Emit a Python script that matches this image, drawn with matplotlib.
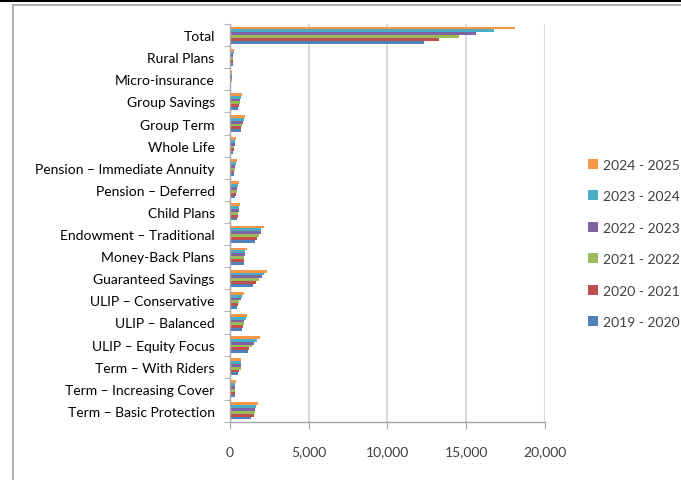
import matplotlib
matplotlib.use("Agg")
import matplotlib.pyplot as plt
from matplotlib.lines import Line2D
from matplotlib.patches import Rectangle
from matplotlib.ticker import FuncFormatter, MultipleLocator
import numpy as np

# ── Data ───────────────────────────────────────────────────────────────────
categories = [
    "Total", "Rural Plans", "Micro-insurance", "Group Savings", "Group Term",
    "Whole Life", "Pension \u2013 Immediate Annuity", "Pension \u2013 Deferred",
    "Child Plans", "Endowment \u2013 Traditional", "Money-Back Plans",
    "Guaranteed Savings", "ULIP \u2013 Conservative", "ULIP \u2013 Balanced",
    "ULIP \u2013 Equity Focus", "Term \u2013 With Riders",
    "Term \u2013 Increasing Cover", "Term \u2013 Basic Protection",
]

years = ["2019 - 2020", "2020 - 2021", "2021 - 2022",
         "2022 - 2023", "2023 - 2024", "2024 - 2025"]

fy_2019_20 = [12340, 180, 80, 520, 690, 200, 250, 350, 470, 1590, 860,
              1450, 450, 770, 1140, 480, 290, 1310]
fy_2020_21 = [13290, 190, 90, 580, 730, 230, 280, 390, 520, 1730, 900,
              1640, 520, 810, 1230, 590, 290, 1520]
fy_2021_22 = [14560, 200, 100, 620, 770, 270, 300, 430, 540, 1840, 920,
              1860, 600, 870, 1390, 670, 300, 1570]
fy_2022_23 = [15600, 210, 110, 660, 820, 290, 330, 470, 560, 1940, 940,
              2010, 680, 920, 1540, 680, 310, 1620]
fy_2023_24 = [16770, 230, 120, 700, 900, 330, 370, 520, 600, 2000, 980,
              2160, 770, 1000, 1740, 690, 330, 1680]
fy_2024_25 = [18100, 250, 140, 740, 980, 360, 420, 580, 650, 2130, 1060,
              2360, 860, 1100, 1910, 720, 370, 1760]

series = [fy_2019_20, fy_2020_21, fy_2021_22, fy_2022_23, fy_2023_24, fy_2024_25]
colors = ["#4F81BD", "#C0504D", "#9BBB59", "#8064A2", "#4BACC6", "#F79646"]

# ── Style ──────────────────────────────────────────────────────────────────
plt.rcParams["font.family"] = ["Lato", "DejaVu Sans"]
plt.rcParams["font.size"] = 10
text_color = "#404040"
grid_color = "#D9D9D9"
axis_color = "#A6A6A6"

fig = plt.figure(figsize=(6.81, 4.81), dpi=100)
ax = fig.add_axes([0.3377, 0.1206, 0.4626, 0.8274])

n = len(categories)
y = np.arange(n)[::-1]
group = 0.77
h = group / len(series)

for i, (vals, col, lab) in enumerate(zip(series, colors, years)):
    ax.barh(y + (i - 2.5) * h, vals, height=h, color=col, label=lab,
            edgecolor="none")

ax.set_xlim(0, 20000)
ax.set_ylim(-0.5, n - 0.5)
ax.xaxis.set_major_locator(MultipleLocator(5000))
ax.xaxis.set_major_formatter(FuncFormatter(lambda v, _: f"{v:,.0f}"))
ax.grid(axis="x", color=grid_color, linewidth=1.5)
ax.set_axisbelow(True)

# category labels centred, tick marks at the group boundaries
ax.set_yticks(y)
ax.set_yticklabels(categories)
ax.set_yticks(np.arange(-0.5, n, 1.0), minor=True)
ax.tick_params(axis="y", which="major", length=0, pad=11,
               labelcolor="#000000", labelsize=10)
ax.tick_params(axis="y", which="minor", length=4, color=axis_color,
               direction="out")
ax.tick_params(axis="x", length=5, color=axis_color, pad=12,
               labelcolor=text_color, labelsize=10)

for side in ["top", "right"]:
    ax.spines[side].set_visible(False)
for side in ["left", "bottom"]:
    ax.spines[side].set_color(axis_color)
    ax.spines[side].set_linewidth(1.0)

# legend: newest year on top
handles, labels = ax.get_legend_handles_labels()
fig.legend(handles[::-1], labels[::-1], loc="center left",
           bbox_to_anchor=(0.845, 0.492), frameon=False,
           handlelength=0.7, handleheight=0.7, handletextpad=0.4,
           labelspacing=1.4, fontsize=10, labelcolor=text_color)

# chart frame
fig.add_artist(Rectangle((0, 1 - 3 / 481), 1, 3 / 481,
                         transform=fig.transFigure, color="black", lw=0))
fig.add_artist(Line2D([12.5 / 681, 12.5 / 681], [0, 1 - 5.5 / 481],
                      transform=fig.transFigure, color="#B3B3B3", lw=1.5))
fig.add_artist(Line2D([12.5 / 681, 1], [1 - 5.5 / 481, 1 - 5.5 / 481],
                      transform=fig.transFigure, color="#B3B3B3", lw=1.5))

fig.savefig("out.png", dpi=100)
